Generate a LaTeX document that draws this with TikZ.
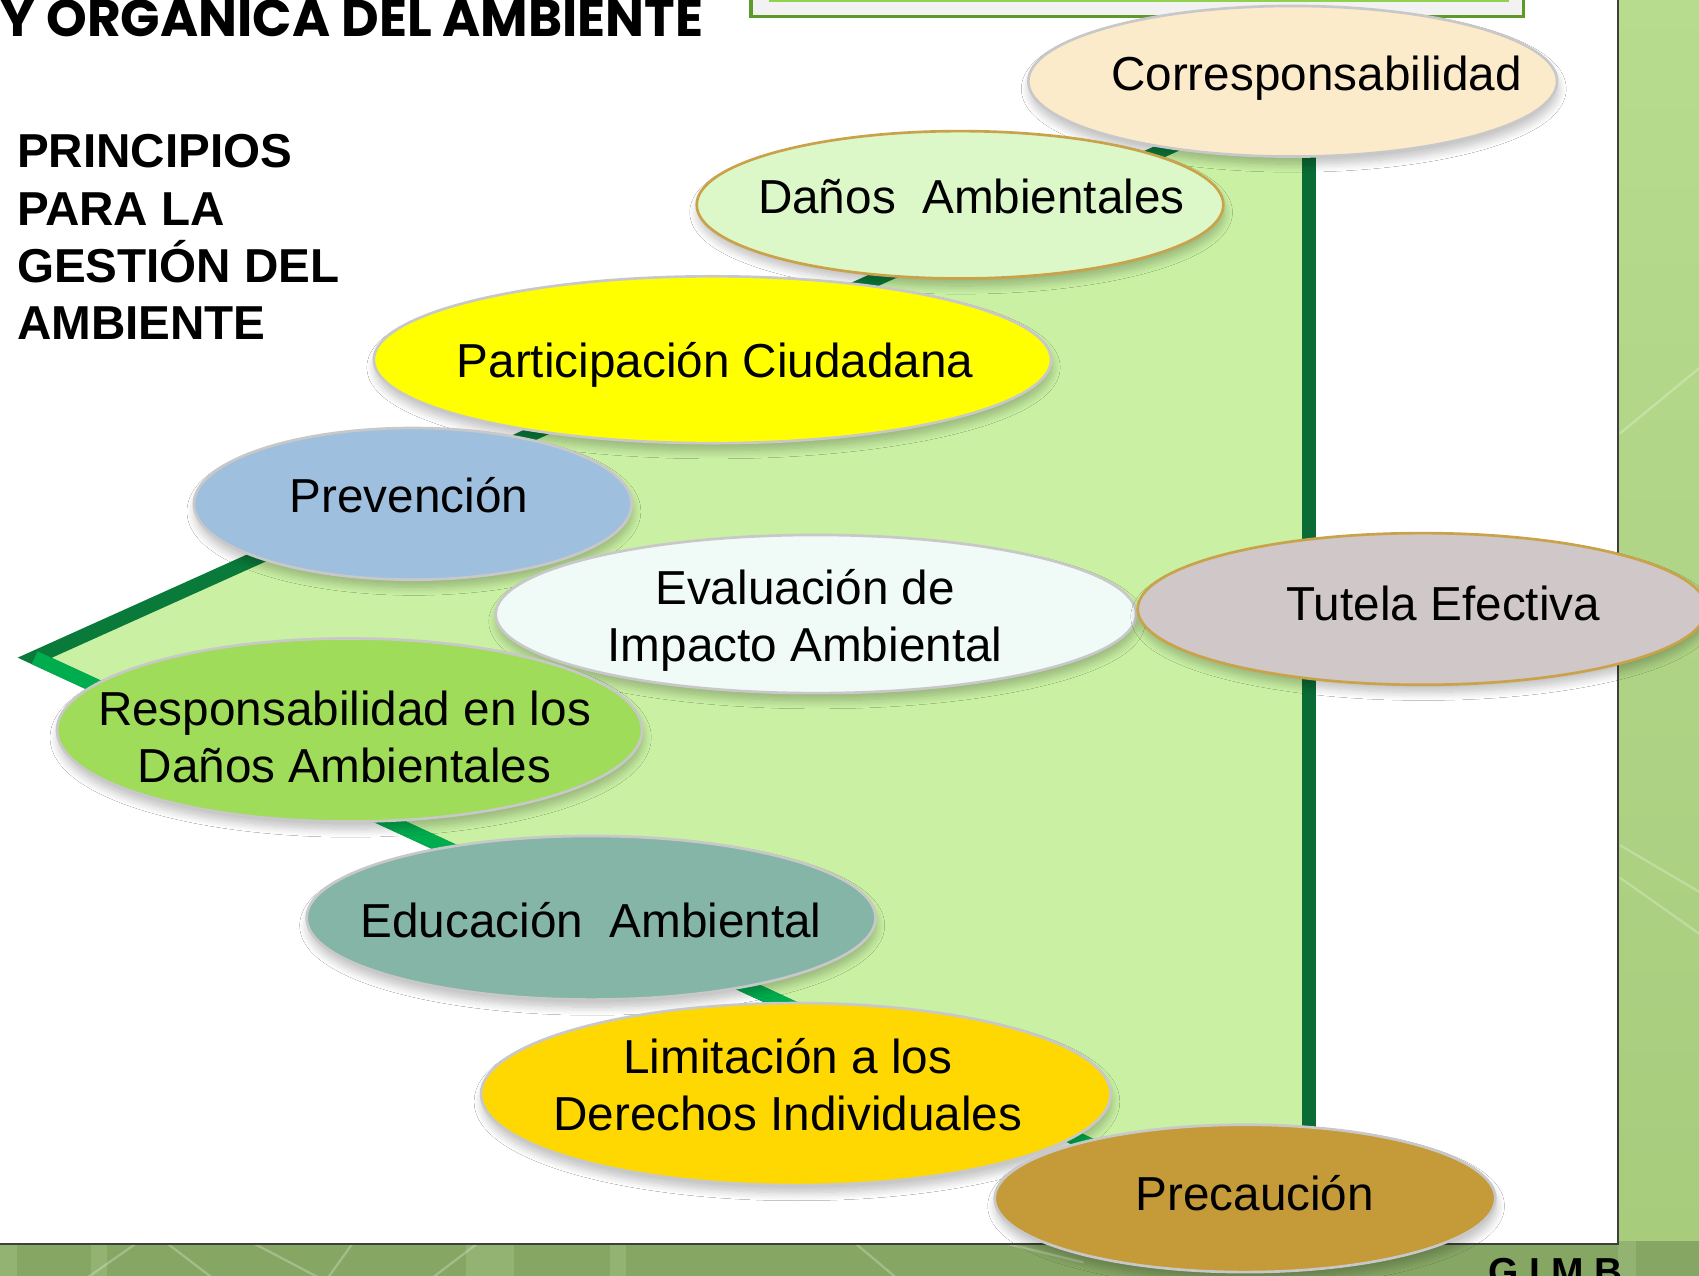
\documentclass[tikz,border=0pt]{standalone}
\usepackage{fontspec}
\setmainfont{Liberation Sans}
\newfontfamily\titlefont{Poppins}
\usetikzlibrary{shapes.geometric,shadows.blur}
\definecolor{bgright}{HTML}{A6CC7C}
\definecolor{bgrighttop}{HTML}{B8DC8E}
\definecolor{bgbottom}{HTML}{86A664}
\definecolor{bandlight}{HTML}{93B373}
\definecolor{panelborder}{HTML}{3F3F3F}
\definecolor{boxborder}{HTML}{5E9A2A}
\definecolor{boxinner}{HTML}{92D050}
\definecolor{boxfill}{HTML}{F2F2F2}
\definecolor{polyfill}{HTML}{C9F0A3}
\definecolor{edgetop}{HTML}{0A7A3A}
\definecolor{edgebot}{HTML}{00AD4E}
\definecolor{edgeright}{HTML}{0B6B35}
\definecolor{ccorr}{HTML}{FCEBCB}
\definecolor{cdanos}{HTML}{DDF8C8}
\definecolor{cpart}{HTML}{FFFF00}
\definecolor{cprev}{HTML}{9EC0DE}
\definecolor{ceval}{HTML}{F0FAF7}
\definecolor{ctut}{HTML}{CFC7C8}
\definecolor{cresp}{HTML}{9FDC5A}
\definecolor{cedu}{HTML}{85B5A7}
\definecolor{clim}{HTML}{FED800}
\definecolor{cprec}{HTML}{C59A38}
\definecolor{rimgray}{HTML}{C8C8C8}
\definecolor{rimgold}{HTML}{C9A24A}
\tikzset{
  ell/.style={ellipse, inner sep=0pt, draw=rimgray, line width=0.7pt,
    blur shadow={shadow xshift=0.01cm, shadow yshift=-0.07cm, shadow opacity=25, shadow blur steps=10}},
  lab/.style={inner sep=0pt, align=center, text=black, font=\fontsize{12.52}{15.0}\selectfont},
  edgeline/.style={line width=0.13cm},
}
\begin{document}
\begin{tikzpicture}[x=1cm,y=1cm]
\useasboundingbox (0,0) rectangle (15.68,-11.77);
\clip (0,0) rectangle (15.68,-11.77);
% slide background
\shade[top color=bgrighttop, bottom color=bgright] (14.9,0.1) rectangle (15.8,-11.5);
\fill[bgbottom] (-0.1,-11.45) rectangle (15.8,-11.9);
\foreach \a/\b in {0/0.16, 0.84/0.99, 4.30/4.74, 5.63/5.78, 14.93/15.10}
  \fill[bandlight] (\a,-11.45) rectangle (\b,-11.9);
\begin{scope}[white, opacity=0.25, line width=0.6pt]
  \draw (0.65,-11.9) -- (1.25,-11.48);
  \draw (1.55,-11.48) -- (2.10,-11.9);
  \draw (2.35,-11.48) -- (3.15,-11.9);
  \draw (2.95,-11.9) -- (3.25,-11.48);
  \draw (3.85,-11.9) -- (4.40,-11.48);
  \draw (7.90,-11.48) -- (8.40,-11.9);
  \draw (9.30,-11.48) -- (10.0,-11.65);
  \draw (14.95,-4.0) -- (15.8,-3.3);
  \draw (14.95,-7.8) -- (15.8,-8.3);
  \draw (14.95,-8.1) -- (15.8,-8.7);
\end{scope}
% white panel
\fill[white] (-0.1,0.1) rectangle (14.93,-11.48);
\draw[panelborder, line width=0.6pt] (14.93,0.1) -- (14.93,-11.48) -- (-0.1,-11.48);
% top box
\draw[fill=boxfill, draw=boxborder, line width=0.03cm] (6.93,0.3) rectangle (14.06,-0.155);
\draw[boxinner, line width=0.025cm] (7.11,0.3) rectangle (13.91,-0.01);
% title
\node[anchor=base west, inner sep=0pt, font=\titlefont\bfseries\fontsize{13.6}{15}\selectfont] (title) at (0,-0.335) {Y ORGÁNICA DEL AMBIENTE};
% side heading
\node[anchor=north west, inner sep=0pt, align=left, font=\bfseries\fontsize{12.5}{15.05}\selectfont] (heading) at (0.15,-1.235) {PRINCIPIOS\\PARA LA\\GESTIÓN DEL\\AMBIENTE};
% green triangle
\coordinate (L) at (0.32,-6.07);
\coordinate (T) at (12.08,-0.78);
\coordinate (B) at (12.08,-11.50);
\fill[polyfill] (L) -- (T) -- (B) -- cycle;
\draw[edgeline, edgeright] (T) -- (B);
\draw[edgeline, edgetop, line join=miter] (B) -- (L) -- (T);
\draw[edgeline, edgebot] (L) -- (B);
% ellipses
\node[ell, fill=ccorr, minimum width=4.88cm, minimum height=1.39cm] (corr) at (11.93,-0.75) {};
\node[lab, anchor=base] (corrT) at (12.15,-0.835) {Corresponsabilidad};
\node[ell, fill=cdanos, draw=rimgold, minimum width=4.86cm, minimum height=1.36cm] (danos) at (8.86,-1.89) {};
\node[lab, anchor=base] (danosT) at (8.965,-1.97) {Daños\ \ Ambientales};
\node[ell, fill=cpart, minimum width=6.25cm, minimum height=1.54cm] (part) at (6.575,-3.32) {};
\node[lab, anchor=base] (partT) at (6.60,-3.48) {Participación Ciudadana};
\node[ell, fill=cprev, minimum width=4.04cm, minimum height=1.40cm] (prev) at (3.81,-4.65) {};
\node[lab, anchor=base] (prevT) at (3.775,-4.73) {Prevención};
\node[ell, fill=ceval, minimum width=5.91cm, minimum height=1.46cm] (eval) at (7.53,-5.667) {};
\node[lab] (evalT) at (7.43,-5.727) {Evaluación de\\Impacto Ambiental};
\node[ell, fill=ctut, draw=rimgold, minimum width=5.25cm, minimum height=1.40cm] (tut) at (13.125,-5.62) {};
\node[lab, anchor=base] (tutT) at (13.32,-5.73) {Tutela Efectiva};
\node[ell, fill=cresp, minimum width=5.40cm, minimum height=1.69cm] (resp) at (3.226,-6.737) {};
\node[lab] (respT) at (3.18,-6.80) {Responsabilidad en los\\Daños Ambientales};
\node[ell, fill=cedu, minimum width=5.25cm, minimum height=1.51cm] (edu) at (5.455,-8.47) {};
\node[lab, anchor=base] (eduT) at (5.455,-8.65) {Educación\ \ Ambiental};
\node[ell, fill=clim, minimum width=5.81cm, minimum height=1.68cm] (lim) at (7.345,-10.097) {};
\node[lab] (limT) at (7.27,-10.01) {Limitación a los\\Derechos Individuales};
\node[ell, fill=cprec, minimum width=4.62cm, minimum height=1.36cm] (prec) at (11.49,-11.06) {};
\node[lab, anchor=base] (precT) at (11.58,-11.167) {Precaución};
% footer initials (cut by the lower edge, as in the reference)
\node[anchor=base west, inner sep=0pt, font=\bfseries\fontsize{10.24}{12}\selectfont] (gimb) at (13.73,-11.86) {G.I.M.B.};
\end{tikzpicture}
\end{document}
